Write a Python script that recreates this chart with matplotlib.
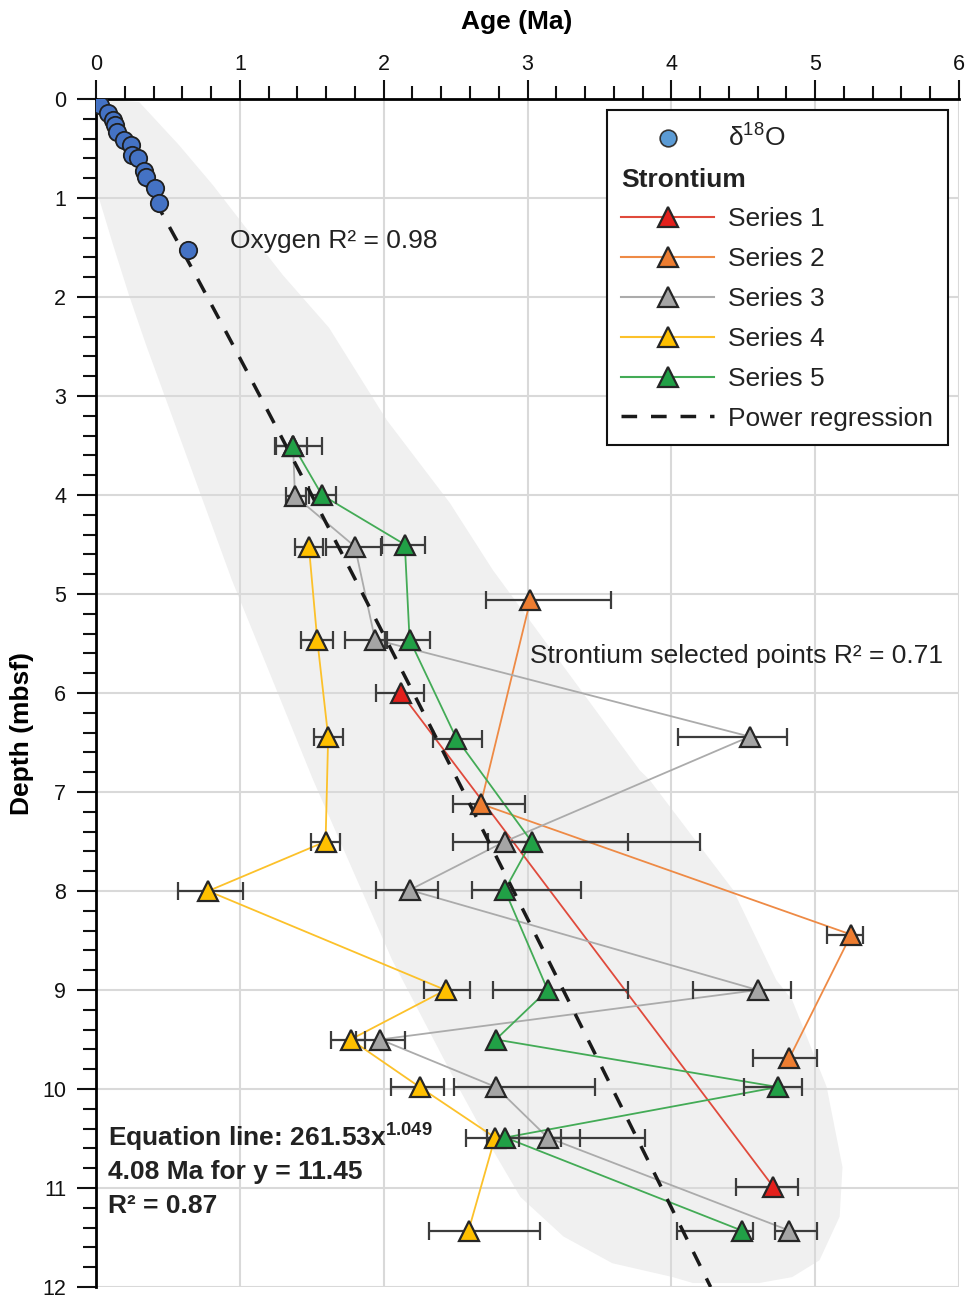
import matplotlib
matplotlib.use("Agg")
import matplotlib.pyplot as plt
import numpy as np
from matplotlib.lines import Line2D
from matplotlib.ticker import MultipleLocator

plt.rcParams["font.family"] = ["Liberation Sans", "DejaVu Sans"]
plt.rcParams["mathtext.fontset"] = "custom"
plt.rcParams["mathtext.rm"] = "Liberation Sans"
plt.rcParams["mathtext.bf"] = "Liberation Sans:bold"
plt.rcParams["mathtext.default"] = "regular"

# oxygen isotope ages (Ma) and depths (mbsf)
oxy_age = [0.03, 0.085, 0.115, 0.13, 0.145, 0.197, 0.24, 0.25, 0.29, 0.336, 0.347, 0.413, 0.436, 0.637]
oxy_depth = [0.06, 0.145, 0.21, 0.26, 0.33, 0.415, 0.465, 0.57, 0.60, 0.73, 0.785, 0.90, 1.045, 1.52]

# strontium series: age, depth, age error (minus / plus)
s1_age = [2.12, 4.71]
s1_depth = [6.0, 10.99]
s1_lo = [0.17, 0.26]
s1_hi = [0.16, 0.17]

s2_age = [3.02, 2.675, 5.25, 4.82]
s2_depth = [5.06, 7.12, 8.44, 9.69]
s2_lo = [0.31, 0.19, 0.17, 0.25]
s2_hi = [0.56, 0.31, 0.08, 0.19]

s3_age = [1.37, 1.383, 1.80, 1.94, 4.545, 2.842, 2.18, 4.60, 1.976, 2.78, 3.14, 4.82]
s3_depth = [3.5, 4.01, 4.52, 5.46, 6.44, 7.50, 7.99, 9.0, 9.5, 9.98, 10.49, 11.43]
s3_lo = [0.12, 0.06, 0.20, 0.21, 0.50, 0.36, 0.23, 0.45, 0.17, 0.29, 0.20, 0.10]
s3_hi = [0.10, 0.08, 0.18, 0.07, 0.26, 0.86, 0.20, 0.235, 0.17, 0.69, 0.68, 0.19]

s4_age = [1.48, 1.538, 1.614, 1.596, 0.78, 2.43, 1.77, 2.25, 2.774, 2.59]
s4_depth = [4.52, 5.46, 6.44, 7.50, 8.0, 9.0, 9.5, 9.98, 10.49, 11.43]
s4_lo = [0.10, 0.11, 0.10, 0.10, 0.21, 0.15, 0.135, 0.20, 0.20, 0.273]
s4_hi = [0.10, 0.11, 0.10, 0.10, 0.24, 0.17, 0.10, 0.17, 0.46, 0.50]

s5_age = [1.371, 1.571, 2.147, 2.18, 2.506, 3.028, 2.842, 3.14, 2.78, 4.74, 2.846, 4.49]
s5_depth = [3.5, 4.0, 4.5, 5.46, 6.46, 7.50, 7.99, 9.0, 9.5, 9.98, 10.49, 11.43]
s5_lo = [0.125, 0.09, 0.16, 0.16, 0.16, 0.30, 0.23, 0.38, 0.0, 0.236, 0.125, 0.45]
s5_hi = [0.20, 0.10, 0.14, 0.14, 0.18, 1.17, 0.53, 0.56, 0.0, 0.17, 0.52, 0.08]

# grey envelope outline (age, depth)
env_age = [0.0, 0.30, 0.577, 0.813, 1.042, 1.30, 1.62, 2.02, 2.46, 2.76, 3.78, 3.85, 4.43,
           4.73, 4.84, 5.08, 5.19, 5.17, 5.03, 4.84, 4.61, 4.15, 4.01, 3.59, 3.25, 2.95,
           2.76, 2.53, 2.06, 1.51, 0.945, 0.347, 0.229, 0.118, 0.014, 0.0]
env_depth = [0.0, 0.03, 0.465, 0.87, 1.30, 1.78, 2.31, 3.24, 4.08, 4.76, 6.78, 6.88, 7.99,
             8.90, 9.10, 9.98, 10.79, 11.29, 11.73, 11.90, 11.96, 11.96, 11.90, 11.76, 11.49, 11.09,
             10.62, 10.01, 8.70, 6.88, 4.86, 2.48, 1.98, 1.47, 0.97, 0.80]

# power regression: depth = coef * age ** expo (depth in m)
reg_coef = 2.6153
reg_expo = 1.049

series = [
    ("Series 1", s1_age, s1_depth, s1_lo, s1_hi, "#e3201c", "#e04a3c"),
    ("Series 2", s2_age, s2_depth, s2_lo, s2_hi, "#ed7d31", "#ee8a45"),
    ("Series 3", s3_age, s3_depth, s3_lo, s3_hi, "#a5a5a5", "#ababab"),
    ("Series 4", s4_age, s4_depth, s4_lo, s4_hi, "#ffc000", "#fcc12a"),
    ("Series 5", s5_age, s5_depth, s5_lo, s5_hi, "#21a046", "#43ab56"),
]

fig = plt.figure(figsize=(9.68, 12.99), dpi=100)
ax = fig.add_axes([0.0992, 0.00924, 0.8915, 0.9145])
ax.set_xlim(0, 6)
ax.set_ylim(12, 0)
ax.set_axisbelow(True)

ax.fill(env_age, env_depth, color="#f0f0f0", lw=0, zorder=0.2)
ax.grid(True, which="major", color="#d9d9d9", lw=1.5)

age_end = (12 / reg_coef) ** (1 / reg_expo)
reg_x = np.linspace(0, age_end, 200)
ax.plot(reg_x, reg_coef * reg_x ** reg_expo, color="#1a1a1a", lw=2.5,
        ls=(0, (4.5, 4)), zorder=4)

for name, age, depth, lo, hi, mcol, lcol in series:
    ax.plot(age, depth, color=lcol, lw=1.3, zorder=2)
    ax.errorbar(age, depth, xerr=[lo, hi], fmt="none", ecolor="#3c3c3c",
                elinewidth=1.6, capsize=6.5, capthick=1.6, zorder=3)
    ax.plot(age, depth, ls="none", marker="^", ms=15, mfc=mcol, mec="#262626",
            mew=1.6, zorder=5)

ax.plot(oxy_age, oxy_depth, ls="none", marker="o", ms=12.5, mfc="#4472c4",
        mec="#1f1f1f", mew=1.3, zorder=6)

ax.text(0.93, 1.43, "Oxygen R² = 0.98", fontsize=19, va="center", color="#222222")
ax.text(3.02, 5.63, "Strontium selected points R² = 0.71", fontsize=19,
        va="center", color="#222222")
ax.text(0.083, 10.49, r"Equation line: 261.53x$^{\mathbf{1.049}}$", fontsize=19,
        fontweight="bold", va="center", color="#222222")
ax.text(0.083, 10.84, "4.08 Ma for y = 11.45", fontsize=19, fontweight="bold",
        va="center", color="#222222")
ax.text(0.083, 11.18, "R² = 0.87", fontsize=19, fontweight="bold", va="center",
        color="#222222")

# axes styling
ax.xaxis.tick_top()
ax.xaxis.set_label_position("top")
ax.set_xticks(range(0, 7))
ax.set_yticks(range(0, 13))
ax.xaxis.set_minor_locator(MultipleLocator(0.2))
ax.yaxis.set_minor_locator(MultipleLocator(0.2))
ax.tick_params(which="major", length=13.5, width=1.5, labelsize=15.5, colors="#111111")
ax.tick_params(which="minor", length=9.5, width=1.5, colors="#111111")
ax.tick_params(axis="x", which="both", bottom=False, pad=4)
ax.tick_params(axis="y", which="both", right=False, pad=8)
for side in ("right", "bottom"):
    ax.spines[side].set_visible(False)
for side in ("top", "left"):
    ax.spines[side].set_linewidth(2)
ax.set_xlabel("Age (Ma)", fontsize=19, fontweight="bold")
ax.xaxis.set_label_coords(0.488, 1.065)
ax.xaxis.label.set_va("center")
ax.set_ylabel("Depth (mbsf)", fontsize=19, fontweight="bold")
ax.yaxis.set_label_coords(-0.0857, 0.466)
ax.yaxis.label.set_va("center")

# legend
handles = [Line2D([], [], ls="none", marker="o", ms=12, mfc="#5b9bd5", mec="#333333", mew=1.2),
           Line2D([], [], ls="none")]
labels = ["δ$^{18}$O", "Strontium"]
for name, age, depth, lo, hi, mcol, lcol in series:
    handles.append(Line2D([], [], color=lcol, lw=1.5, marker="^", ms=15, mfc=mcol,
                          mec="#262626", mew=1.6))
    labels.append(name)
handles.append(Line2D([], [], color="#1a1a1a", lw=2.5, ls=(0, (4.5, 4))))
labels.append("Power regression")

hl, hp, fs = 3.5, 0.55, 19
leg = ax.legend(handles, labels, loc="upper right", bbox_to_anchor=(0.987, 0.9907),
                borderaxespad=0, fontsize=fs, handlelength=hl, handletextpad=hp,
                labelspacing=0.6, borderpad=0.55, fancybox=False, framealpha=1,
                edgecolor="#111111")
leg.get_frame().set_linewidth(1.5)
head = leg.get_texts()[1]
head.set_fontweight("bold")
head.set_x(-(hl + hp) * fs * fig.dpi / 72)
for t in leg.get_texts():
    t.set_color("#222222")

fig.savefig("out.png", dpi=100)
